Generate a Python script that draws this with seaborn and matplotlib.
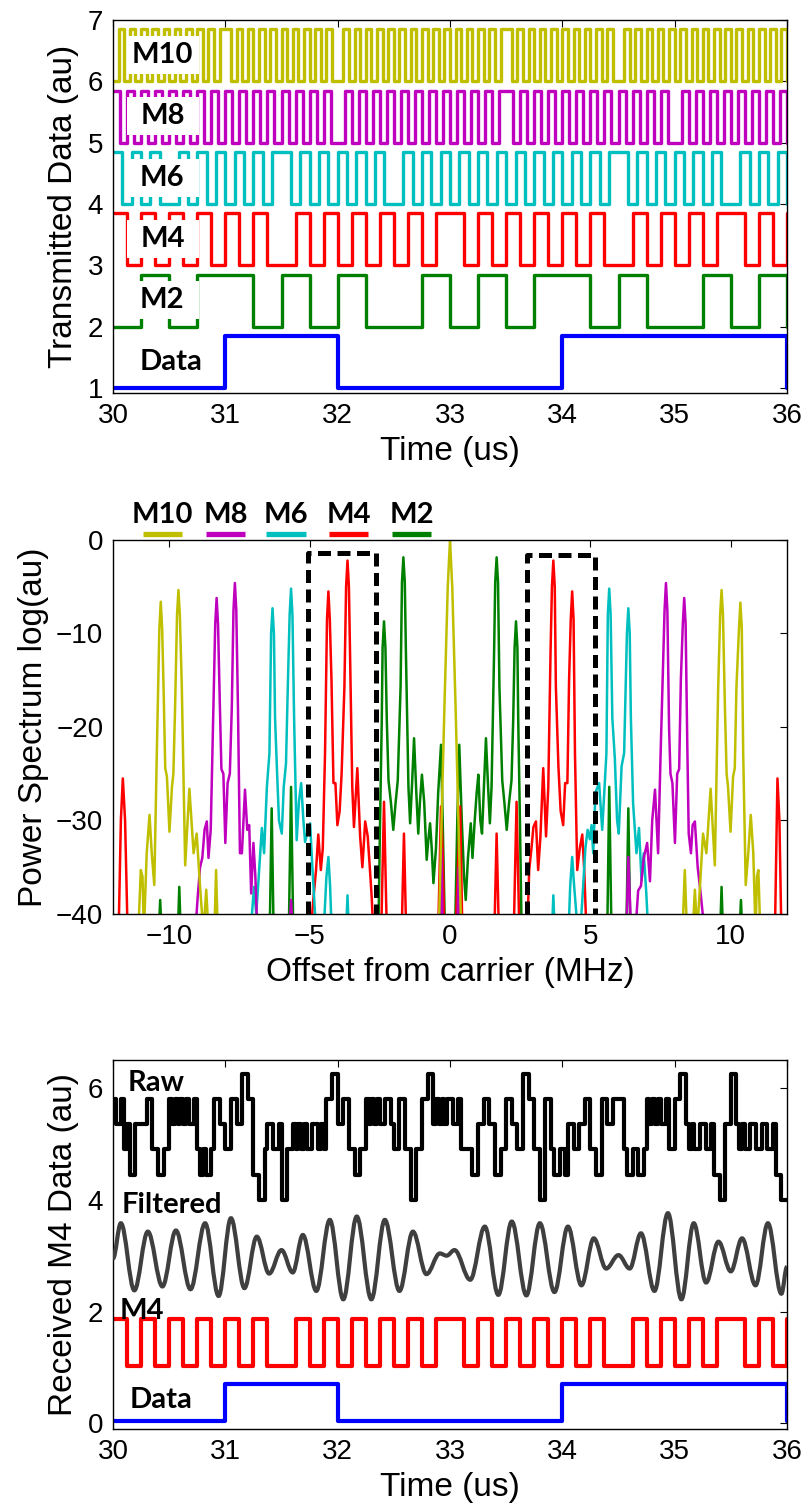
import numpy as np
import pandas as pd
import matplotlib
matplotlib.use('Agg')
import matplotlib.pyplot as plt
from matplotlib.patches import Rectangle, PathPatch
from matplotlib.path import Path
import seaborn as sns

# ---------------- DATA : panel 1 (transmitted signals) ----------------
# bit strings, one char per half-period slot from 30 us; last char = level after 36 us
data_bits = "0100110"                      # 1 us slots
m2_bits = "010110101001010110100101" "0"    # 0.25 us slots
m4_bits = ("101010101010" "010101010101" "101010101010"
           "01010101" "1010" "1")          # 0.125 us slots
m6_bits = ("101010" "010101010101" "101010101010"
           "010101010101010101010101" "101010101010" "010101" "0")   # 1/12 us slots
m8_bits = ("10101010101010101010101010101010" "010101010101010101010101"
           "101010101010101010101010" "0101010101010101" "0")          # 1/16 us slots
m10_bits = ("01010101010101010101" "10101010101010101010"
            "010101010101010101010101010101" "10101010101010101010"
            "010101010101010101010101010101" "0")                        # 0.05 us slots

names_top = ["Data", "M2", "M4", "M6", "M8", "M10"]
bits_top = [data_bits, m2_bits, m4_bits, m6_bits, m8_bits, m10_bits]
slot_us = [1.0, 0.25, 0.125, 1 / 12, 1 / 16, 0.05]
base_top = [1, 2, 3, 4, 5, 6]
amp_top = 0.85

# ---------------- DATA : panel 2 (spectrum, MHz / log au) ----------------
M10_pts = [(-11.1, -42), (-11.01, -35.3), (-10.95, -36), (-10.9, -42), (-10.8, -33.5), (-10.70, -29.4),
           (-10.62, -33.5), (-10.53, -36.9), (-10.44, -22.8), (-10.35, -9.5), (-10.30, -6.6), (-10.25, -9.5),
           (-10.2, -15.7), (-10.14, -24.4),
           (-10.08, -25.3), (-9.99, -31.2), (-9.90, -26.4), (-9.85, -25), (-9.79, -18), (-9.72, -8), (-9.67, -5.35),
           (-9.62, -8), (-9.55, -15.7), (-9.43, -34.8), (-9.28, -26.6), (-9.13, -33.5), (-9.02, -31.4), (-8.9, -37.1),
           (-8.78, -42), (-8.68, -37.4), (-8.6, -42), (-8.39, -42), (-8.33, -35.3), (-8.27, -42),
           (-0.4, -42), (-0.3, -30), (-0.2, -18), (-0.08, -5), (0.0, 0), (0.08, -5), (0.2, -18), (0.3, -30), (0.4, -42),
           (8.28, -42), (8.36, -35.3), (8.44, -42), (8.64, -42), (8.72, -37.4), (8.80, -42), (8.9, -37.1),
           (9.01, -31.4), (9.13, -33.5), (9.28, -26.6), (9.43, -34.8), (9.55, -15.7), (9.62, -8), (9.67, -5.35),
           (9.72, -8), (9.79, -18),
           (9.85, -25), (9.9, -26.4), (9.99, -31.2), (10.08, -25.3), (10.14, -24.4), (10.2, -15.7), (10.29, -9.5),
           (10.34, -6.7), (10.39, -9.5),
           (10.44, -22.8), (10.53, -36.9), (10.62, -33.5), (10.71, -29.4), (10.8, -33.5), (10.88, -42),
           (10.93, -36), (10.98, -35.3), (11.05, -42)]
M8_pts = [(-9.07, -42), (-8.98, -38), (-8.9, -35), (-8.82, -34), (-8.74, -31), (-8.66, -30.1), (-8.6, -34),
          (-8.52, -31), (-8.44, -20), (-8.36, -9), (-8.31, -6.2), (-8.26, -9), (-8.2, -17), (-8.14, -24.5),
          (-8.07, -25), (-8.0, -32.4),
          (-7.92, -26), (-7.84, -25), (-7.77, -18), (-7.71, -7.5), (-7.66, -4.6), (-7.61, -7.5), (-7.55, -18),
          (-7.48, -33.5), (-7.41, -33.5),
          (-7.30, -26.7), (-7.22, -31), (-7.15, -30.5), (-7.08, -37.8), (-7.0, -32.4), (-6.93, -36), (-6.86, -42),
          (-5.72, -42), (-5.66, -38.5), (-5.6, -42), (-0.36, -42), (-0.31, -33), (-0.26, -42),
          (0.26, -42), (0.31, -35), (0.36, -42), (6.28, -42), (6.35, -33.9), (6.45, -42), (6.6, -42), (6.7, -37.5),
          (6.8, -37), (6.9, -34), (7.02, -32.4), (7.12, -36.5), (7.20, -30), (7.30, -26.7), (7.41, -33.5),
          (7.5, -22.8), (7.64, -7.5), (7.69, -4.6), (7.74, -7.5), (7.8, -20), (7.85, -25), (7.92, -26),
          (8.01, -32.4), (8.09, -25),
          (8.16, -24.5), (8.22, -15), (8.29, -9), (8.34, -6.2), (8.39, -9), (8.45, -22), (8.5, -31.4),
          (8.58, -33.5), (8.64, -30.5),
          (8.72, -30.1), (8.82, -35), (8.9, -37.1), (9.0, -40), (9.07, -42)]
M6_pts = [(-7.1, -42), (-6.98, -37.1), (-6.9, -40), (-6.82, -36.4), (-6.7, -30.8), (-6.62, -33.5), (-6.52, -26.4),
          (-6.43, -22.8), (-6.37, -10), (-6.32, -7.3), (-6.27, -10), (-6.23, -19), (-6.17, -23.9), (-6.09, -30),
          (-5.99, -31.4), (-5.92, -26.4),
          (-5.84, -23.9), (-5.77, -15), (-5.71, -8), (-5.66, -5.2), (-5.61, -8), (-5.55, -19.3), (-5.46, -32.1),
          (-5.38, -28), (-5.30, -26),
          (-5.22, -30), (-5.16, -32.3), (-5.06, -31), (-4.98, -30.3), (-4.92, -34), (-4.86, -37.1), (-4.77, -42),
          (-4.5, -42), (-4.4, -36), (-4.33, -33.9), (-4.27, -37), (-4.21, -42), (-3.7, -42), (-3.65, -38), (-3.6, -42),
          (3.63, -42), (3.68, -38), (3.73, -42), (4.22, -42), (4.28, -37), (4.35, -33.9), (4.42, -37), (4.5, -40),
          (4.6, -42), (4.68, -40), (4.74, -37.1), (4.82, -33), (4.9, -31), (4.98, -32), (5.04, -30.5), (5.1, -33.5),
          (5.18, -27), (5.31, -26), (5.42, -31), (5.57, -22.8), (5.62, -8), (5.67, -5.2), (5.72, -8), (5.78, -19),
          (5.87, -23.4),
          (5.95, -30), (6.01, -31.4), (6.11, -24.2), (6.2, -22.8), (6.30, -10), (6.35, -7.3), (6.40, -10),
          (6.44, -19), (6.52, -28.2),
          (6.64, -33.5), (6.73, -30.8), (6.82, -36.4), (6.9, -33.5), (6.99, -37.8), (7.06, -42)]
M4_pts = [(-11.8, -42), (-11.72, -30), (-11.65, -25.5), (-11.57, -30), (-11.48, -42),
          (-4.96, -42), (-4.86, -38.2), (-4.77, -35.3), (-4.69, -31.5), (-4.6, -35.3), (-4.53, -33), (-4.45, -22.8),
          (-4.38, -8.5), (-4.33, -5.5), (-4.28, -8.5), (-4.22, -15), (-4.15, -26), (-4.08, -26), (-4.01, -30.5),
          (-3.93, -29), (-3.86, -25),
          (-3.76, -15.7), (-3.70, -5), (-3.65, -2.2), (-3.60, -5), (-3.56, -12), (-3.48, -26.4), (-3.42, -30.7),
          (-3.30, -24.4), (-3.2, -31.7),
          (-3.12, -35), (-3.02, -30.1), (-2.93, -31.7), (-2.85, -35.3), (-2.79, -38.1), (-2.73, -42),
          (-2.45, -42), (-2.35, -28), (-2.25, -42), (-1.72, -42), (-1.64, -31.4), (-1.56, -42),
          (-0.42, -42), (-0.32, -28.5), (-0.26, -33.5), (-0.2, -42),
          (0.2, -42), (0.3, -33.5), (0.36, -28.5), (0.44, -42), (1.58, -42), (1.66, -31.4), (1.74, -42),
          (2.27, -42), (2.37, -28), (2.47, -42),
          (2.75, -42), (2.82, -35.3), (2.9, -33), (2.97, -30.7), (3.06, -30.1), (3.14, -35.3), (3.22, -31.7),
          (3.32, -24.4), (3.42, -31.7), (3.5, -26.4), (3.58, -12), (3.63, -5), (3.68, -2.2), (3.73, -5),
          (3.77, -15.7), (3.86, -24.2),
          (3.94, -29), (4.03, -30.5), (4.1, -26), (4.18, -26), (4.24, -15), (4.30, -8.5), (4.35, -5.5),
          (4.40, -8.5), (4.45, -22.8),
          (4.53, -35.3), (4.62, -33), (4.71, -31.5), (4.78, -35.3), (4.86, -42),
          (11.57, -42), (11.66, -25.5), (11.73, -30), (11.8, -42)]
M2_pts = [(-10.37, -42), (-10.32, -38.5), (-10.27, -42), (-9.69, -42), (-9.64, -37.1), (-9.59, -42),
          (-6.42, -42), (-6.35, -28.7), (-6.28, -42), (-5.74, -42), (-5.66, -26.4), (-5.58, -42),
          (-2.55, -42), (-2.49, -30), (-2.43, -19.3), (-2.40, -11.5), (-2.35, -8.7), (-2.30, -11.5),
          (-2.25, -19.3), (-2.19, -25.7), (-2.1, -28.2),
          (-2.02, -31.0), (-1.94, -28.2), (-1.86, -25.7), (-1.76, -15.7), (-1.71, -4.5), (-1.66, -1.85),
          (-1.61, -4.5), (-1.57, -12),
          (-1.48, -26.4), (-1.42, -30.3), (-1.35, -26), (-1.28, -21.2), (-1.2, -27), (-1.13, -31.4), (-1.07, -28),
          (-1.0, -25.1), (-0.92, -28), (-0.83, -34.2), (-0.77, -32), (-0.71, -30.3), (-0.65, -33), (-0.59, -36.7),
          (-0.5, -33), (-0.42, -27), (-0.32, -21.9), (-0.26, -30), (-0.18, -42),
          (0.18, -42), (0.26, -30), (0.33, -21.9), (0.42, -30), (0.5, -36), (0.56, -38.5), (0.64, -34),
          (0.74, -30.3), (0.8, -34), (0.88, -30), (0.95, -27), (1.01, -25.1), (1.08, -30), (1.14, -31.4),
          (1.2, -27), (1.28, -21.2), (1.35, -26), (1.42, -30.3), (1.48, -26.4), (1.57, -12), (1.61, -4.5),
          (1.66, -1.85), (1.71, -4.5),
          (1.76, -15.7), (1.86, -25.7), (1.94, -28.2), (2.02, -31.0), (2.1, -28.2), (2.19, -25.7), (2.25, -19.3),
          (2.30, -11.5), (2.35, -8.7), (2.40, -11.5), (2.43, -19.3), (2.49, -30), (2.55, -42),
          (5.6, -42), (5.67, -26.4), (5.75, -42), (6.28, -42), (6.35, -28.7), (6.42, -42),
          (9.62, -42), (9.67, -37.1), (9.72, -42), (10.31, -42), (10.36, -38.5), (10.41, -42)]
box_left = (-5.07, -2.63, -1.4)     # x0, x1, top
box_right = (2.74, 5.16, -1.6)
legend_names = ["M10", "M8", "M6", "M4", "M2"]

# ---------------- DATA : panel 3 (received) ----------------
# raw received samples: level index (0..5) every 0.025 us from 30 us
raw_levels = ("43342311333344221122" "43434343342121124433" "22443355441100233223"
              "00223232322332324455" "33442211224343433443" "22442200224455343434"
              "43342222113344331122" "44332255442200442112" "21332233442211443344"
              "44211221124343433422" "44553232233223110033" "55323223322332231100" "0")
raw_dt = 0.025
filt_t = [30.0, 30.07, 30.19, 30.31, 30.44, 30.56, 30.69, 30.82, 30.94, 31.05, 31.17, 31.28, 31.39, 31.50,
          31.60, 31.69, 31.81, 31.93, 32.05, 32.17, 32.30, 32.42, 32.55, 32.67, 32.79, 32.91, 32.97, 33.04,
          33.18, 33.31, 33.43, 33.55, 33.68, 33.80, 33.93, 34.05, 34.17, 34.28, 34.39, 34.50, 34.60, 34.70,
          34.82, 34.94, 35.06, 35.17, 35.28, 35.39, 35.50, 35.60, 35.72, 35.83, 35.95, 36.0]
filt_v = [2.95, 3.58, 2.38, 3.43, 2.45, 3.45, 2.40, 3.58, 2.28, 3.67, 2.42, 3.34, 2.68, 3.10, 2.70, 3.37,
          2.37, 3.64, 2.22, 3.70, 2.22, 3.64, 2.37, 3.43, 2.67, 3.04, 3.00, 3.10, 2.57, 3.52, 2.30, 3.61,
          2.29, 3.58, 2.35, 3.52, 2.47, 3.31, 2.77, 3.01, 2.77, 3.40, 2.37, 3.76, 2.22, 3.58, 2.52, 3.25,
          2.72, 3.31, 2.47, 3.58, 2.32, 2.8]
raw_base, raw_step = 4.0, 0.45
rx_data_base, rx_data_amp = 0.05, 0.65
rx_m4_base, rx_m4_amp = 1.03, 0.83

# ---------------- STYLE ----------------
sns.set_theme(style="white")
plt.rcParams['font.family'] = ['Liberation Sans', 'DejaVu Sans']
plt.rcParams['axes.unicode_minus'] = True
for key in ['text.color', 'axes.labelcolor', 'xtick.color', 'ytick.color', 'axes.edgecolor']:
    plt.rcParams[key] = 'black'
LBL = ['Lato', 'DejaVu Sans']

C = {"Data": "#0000FF", "M2": "#008000", "M4": "#FF0000", "M6": "#00BFBF", "M8": "#BF00BF", "M10": "#BFBF00"}

W, H = 806, 1509
fig = plt.figure(figsize=(W / 100, H / 100), dpi=100)
ax1 = fig.add_axes([113 / W, 1 - 393 / H, 674 / W, 373 / H])
ax2 = fig.add_axes([113 / W, 1 - 914 / H, 674 / W, 374 / H])
ax3 = fig.add_axes([113 / W, 1 - 1429 / H, 674 / W, 369 / H])

TS = 20     # tick labels
LS = 24     # axis labels
FS = 21     # bold annotations


def style(ax):
    ax.set_facecolor('white')
    for s in ax.spines.values():
        s.set_visible(True)
        s.set_color('black')
        s.set_linewidth(1.0)
    ax.tick_params(direction='in', length=5, width=0.8, top=True, right=True,
                   labelsize=TS, pad=7, colors='black')
    ax.grid(False)


def wave(ax, bits, dt, base, amp, color, lw, z=2):
    vals = np.array([int(b) for b in bits], dtype=float)
    t = 30.0 + dt * np.arange(len(vals))
    df = pd.DataFrame({"t": t, "v": base + amp * vals})
    sns.lineplot(data=df, x="t", y="v", ax=ax, color=color, linewidth=lw,
                 drawstyle='steps-post', estimator=None, sort=False, legend=False, zorder=z)


# ---------------- PANEL 1 ----------------
for nm, b, dt, base in zip(names_top, bits_top, slot_us, base_top):
    wave(ax1, b, dt, base, amp_top, C[nm], 3.0 if nm == "Data" else 2.4)
for nm, base in zip(names_top[1:], base_top[1:]):
    ax1.add_patch(Rectangle((30.122, base + 0.12), 0.643, 0.62, facecolor='white',
                            edgecolor='none', zorder=5))
    ax1.text(30.44, base + 0.43, nm, ha='center', va='center', fontsize=FS,
             fontweight='bold', family=LBL, zorder=6, color='black')
ax1.text(30.52, 1.42, "Data", ha='center', va='center', fontsize=FS, fontweight='bold',
         family=LBL, zorder=6, color='black')
ax1.set_xlim(30, 36)
ax1.set_ylim(0.92, 7)
ax1.set_yticks([1, 2, 3, 4, 5, 6, 7])
ax1.set_xticks([30, 31, 32, 33, 34, 35, 36])
ax1.set_xlabel("Time (us)", fontsize=LS, labelpad=5)
ax1.set_ylabel("Transmitted Data (au)", fontsize=LS, labelpad=6)
style(ax1)

# ---------------- PANEL 2 ----------------
spec = {"M2": M2_pts, "M4": M4_pts, "M6": M6_pts, "M8": M8_pts, "M10": M10_pts}
for nm in ["M2", "M4", "M6", "M8", "M10"]:
    xs, ys = zip(*spec[nm])
    df = pd.DataFrame({"f": xs, "p": ys})
    sns.lineplot(data=df, x="f", y="p", ax=ax2, color=C[nm], linewidth=1.8,
                 estimator=None, sort=False, legend=False)
for x0, x1, top in (box_left, box_right):
    ax2.plot([x0, x0, x1, x1], [-40, top, top, -40], color='black', lw=3.6,
             dashes=(2.6, 1.3), zorder=4, dash_capstyle='butt')
ax2.set_xlim(-12, 12)
ax2.set_ylim(-40, 0)
ax2.set_xticks([-10, -5, 0, 5, 10])
ax2.set_yticks([-40, -30, -20, -10, 0])
ax2.set_xlabel("Offset from carrier (MHz)", fontsize=LS, labelpad=5)
ax2.set_ylabel("Power Spectrum log(au)", fontsize=LS, labelpad=5)
style(ax2)
leg_cx = [0.0734, 0.1669, 0.2567, 0.350, 0.4429]
for nm, cx in zip(legend_names, leg_cx):
    ax2.text(cx, 1.067, nm, transform=ax2.transAxes, ha='center', va='center',
             fontsize=FS, fontweight='bold', family=LBL, color='black')
    ax2.plot([cx - 0.029, cx + 0.029], [1.016, 1.016], transform=ax2.transAxes,
             color=C[nm], lw=3.8, clip_on=False, solid_capstyle='butt')

# ---------------- PANEL 3 ----------------
lv = np.array([int(c) for c in raw_levels], dtype=float)
raw_df = pd.DataFrame({"t": 30 + raw_dt * np.arange(len(lv)), "v": raw_base + raw_step * lv})
sns.lineplot(data=raw_df, x="t", y="v", ax=ax3, color='black', linewidth=3.0,
             drawstyle='steps-post', estimator=None, sort=False, legend=False)

verts = [(filt_t[0], filt_v[0])]
codes = [Path.MOVETO]
for i in range(1, len(filt_t)):
    x0, y0, x1, y1 = filt_t[i - 1], filt_v[i - 1], filt_t[i], filt_v[i]
    d = x1 - x0
    verts += [(x0 + 0.364 * d, y0), (x1 - 0.364 * d, y1), (x1, y1)]
    codes += [Path.CURVE4] * 3
ax3.add_patch(PathPatch(Path(verts, codes), facecolor='none', edgecolor='#3f3f3f', lw=3.0, zorder=3))

wave(ax3, m4_bits, 0.125, rx_m4_base, rx_m4_amp, C["M4"], 3.0)
wave(ax3, data_bits, 1.0, rx_data_base, rx_data_amp, C["Data"], 3.0)
for txt, tx, ty in [("Raw", 30.13, 6.08), ("Filtered", 30.08, 3.9), ("M4", 30.06, 2.01), ("Data", 30.15, 0.41)]:
    ax3.text(tx, ty, txt, ha='left', va='center', fontsize=FS, fontweight='bold', family=LBL,
             zorder=6, color='black')
ax3.set_xlim(30, 36)
ax3.set_ylim(-0.1, 6.5)
ax3.set_xticks([30, 31, 32, 33, 34, 35, 36])
ax3.set_yticks([0, 2, 4, 6])
ax3.set_xlabel("Time (us)", fontsize=LS, labelpad=5)
ax3.set_ylabel("Received M4 Data (au)", fontsize=LS, labelpad=6)
style(ax3)

fig.savefig("out.png", dpi=100)
